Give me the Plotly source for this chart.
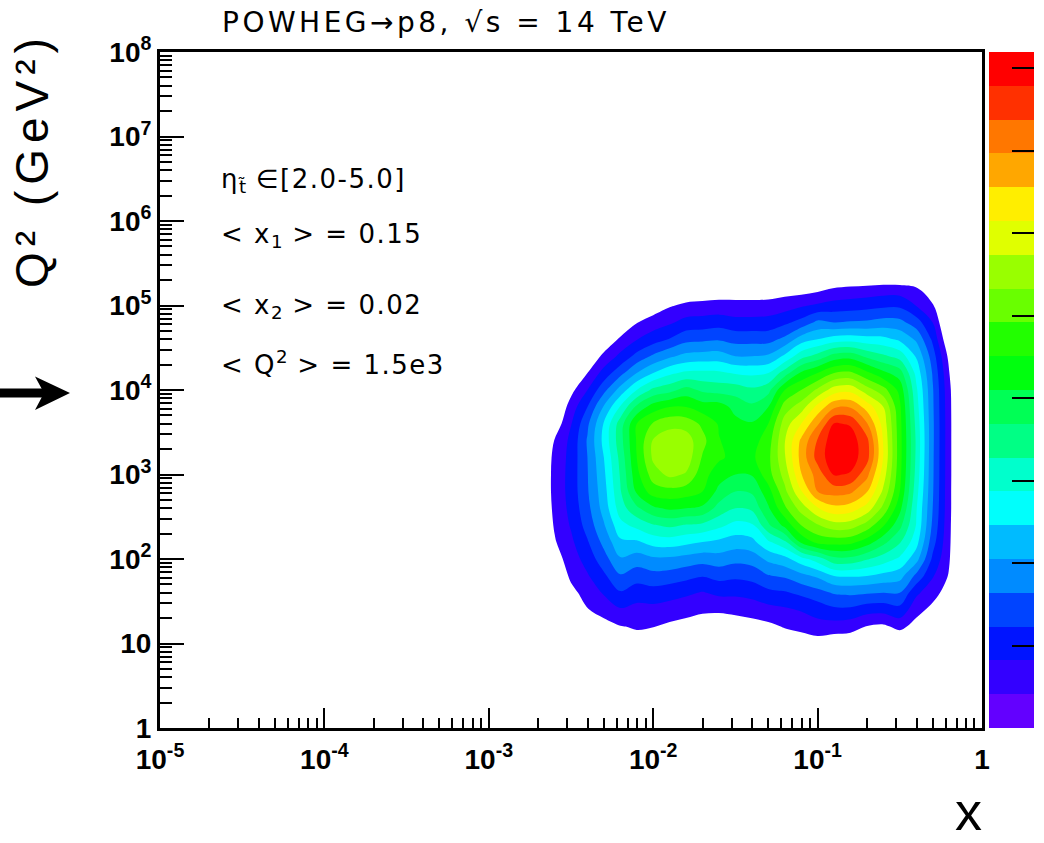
import numpy as np
import plotly.graph_objects as go

# ---------------- page geometry (pixels) ----------------
W, H = 1044, 843
ML, MR, MT, MB = 160, 62, 52, 115
PW, PH = W - ML - MR, H - MT - MB


def fx(px):
    return (px - ML) / PW


def fy(py):
    return (H - MB - py) / PH


# ---------------- data ----------------
# grid positions: log10(x) columns and log10(Q^2) rows (rows listed from top = 10^5.4 down to 10^0.8)
log_x = [-2.7, -2.6, -2.5, -2.4, -2.3, -2.2, -2.1, -2.0, -1.9, -1.8, -1.7, -1.6, -1.5, -1.4,
         -1.3, -1.2, -1.1, -1.0, -0.9, -0.8, -0.7, -0.6, -0.5, -0.4, -0.3, -0.2, -0.1]
log_q2_top_down = [5.4, 5.2, 5.0, 4.8, 4.6, 4.4, 4.2, 4.0, 3.8, 3.6, 3.4, 3.2, 3.0, 2.8,
                   2.6, 2.4, 2.2, 2.0, 1.8, 1.6, 1.4, 1.2, 1.0, 0.8]

# density (in colour-band units, 1 band = 1 palette step) read per x column, top (Q2=10^5.4) to bottom
levels_by_x = [
    [0, 0, 0, 0, 0, 0, 0, 0, 0, 0.2, 0.4, 0.6, 0.6, 0.6, 0.5, 0.3, 0.1, 0, 0, 0, 0, 0, 0, 0],                      # -2.7
    [0, 0, 0, 0, 0, 0, 0, 0, 0.3, 0.8, 1.55, 1.7, 1.75, 1.75, 1.7, 1.6, 1.4, 1.0, 0.5, 0, 0, 0, 0, 0],            # -2.6
    [0, 0, 0, 0, 0, 0, 0.3, 1.2, 1.95, 2.45, 2.75, 2.85, 2.9, 2.9, 2.8, 2.6, 2.3, 2.0, 1.7, 1.2, 0.6, 0, 0, 0],   # -2.5
    [0, 0, 0, 0, 0, 0.6, 1.5, 2.5, 3.5, 4.3, 4.6, 4.5, 4.45, 4.4, 4.2, 3.9, 3.4, 2.9, 2.4, 1.9, 1.45, 0.7, 0, 0],  # -2.4
    [0, 0, 0, 0, 0.7, 1.75, 2.9, 4.2, 5.6, 6.6, 6.8, 6.5, 6.3, 6.1, 5.9, 5.4, 4.8, 4.1, 3.3, 2.6, 1.9, 1.1, 0.3, 0],  # -2.3
    [0, 0, 0, 0.6, 1.66, 2.75, 4.17, 5.9, 7.6, 9.0, 9.1, 8.8, 8.6, 8.4, 8.0, 7.2, 6.3, 5.4, 4.4, 3.4, 2.4, 1.45, 0.5, 0],  # -2.2
    [0, 0, 0.2, 1.45, 2.45, 3.83, 5.5, 7.5, 9.75, 11.5, 11.6, 11.5, 11.2, 10.7, 9.3, 7.8, 6.35, 5.0, 3.95, 2.95, 2.2, 1.6, 1.1, 0],  # -2.1
    [0, 0, 0.9, 1.95, 3.06, 4.67, 6.5, 8.75, 11.0, 12.6, 13.6, 13.7, 13.0, 12.0, 10.3, 8.42, 6.88, 5.32, 4.17, 3.08, 2.2, 1.53, 0.9, 0],  # -2.0
    [0, 0.3, 1.4, 2.35, 3.55, 5.33, 7.3, 9.17, 11.5, 13.2, 14.1, 14.3, 13.75, 12.17, 10.67, 8.7, 7.0, 5.3, 4.06, 2.9, 2.04, 1.3, 0.6, 0],  # -1.9
    [0, 0.6, 1.7, 2.85, 4.2, 5.8, 7.7, 9.9, 11.5, 13.1, 14.0, 14.1, 13.4, 12.0, 10.5, 8.42, 6.75, 5.1, 3.81, 2.67, 1.89, 1.1, 0.3, 0],  # -1.8
    [0, 0.7, 1.78, 2.93, 4.3, 5.91, 7.75, 9.3, 11.0, 12.3, 12.8, 12.4, 11.9, 11.5, 10.3, 8.25, 6.5, 4.9, 3.56, 2.43, 1.69, 0.9, 0, 0],  # -1.7
    [0, 0.85, 1.83, 3.07, 4.4, 5.97, 7.7, 9.1, 11.0, 11.4, 11.55, 11.67, 10.95, 10.22, 9.11, 7.75, 6.28, 5.07, 3.83, 2.72, 1.67, 0.8, 0, 0],  # -1.6
    [0, 0.85, 1.82, 2.83, 4.14, 5.5, 7.4, 9.07, 10.17, 10.8, 11.1, 11.2, 10.5, 9.5, 8.5, 7.2, 6.0, 4.8, 3.7, 2.7, 1.8, 0.9, 0.1, 0],  # -1.5
    [0, 0.85, 1.82, 2.83, 4.14, 5.5, 7.3, 8.7, 9.7, 10.6, 11.05, 11.3, 10.57, 9.64, 8.71, 7.33, 6.19, 4.94, 3.85, 2.85, 1.92, 1.1, 0.3, 0],  # -1.4
    [0, 0.85, 1.85, 2.89, 4.14, 5.65, 7.5, 9.17, 10.5, 11.5, 12.03, 12.25, 12.1, 11.1, 10.36, 9.33, 7.33, 5.73, 4.44, 3.22, 2.18, 1.25, 0.4, 0],  # -1.3
    [0, 1.0, 2.05, 3.29, 4.75, 6.7, 9.0, 11.5, 13.0, 14.0, 14.45, 14.4, 13.9, 13.24, 12.31, 10.8, 8.28, 6.17, 4.64, 3.39, 2.35, 1.58, 0.8, 0],  # -1.2
    [0, 1.0, 2.37, 3.83, 6.0, 8.13, 10.7, 12.5, 14.0, 15.5, 16.7, 16.85, 16.45, 15.43, 13.92, 12.5, 10.72, 7.1, 5.2, 3.72, 2.58, 1.8, 0.9, 0],  # -1.1
    [0, 1.2, 2.65, 4.75, 6.5, 8.9, 11.5, 13.7, 15.83, 17.35, 18.6, 18.9, 17.92, 17.5, 15.42, 13.42, 11.8, 8.0, 5.67, 4.13, 2.9, 2.13, 1.0, 0],  # -1.0
    [0, 1.55, 2.9, 4.5, 7.0, 9.9, 12.5, 15.0, 17.3, 19.6, 20.2, 20.2, 19.6, 17.9, 16.2, 14.1, 11.9, 9.2, 6.5, 4.6, 3.3, 2.05, 0.8, 0],  # -0.9
    [0, 1.7, 3.0, 4.6, 7.1, 10.1, 12.7, 15.2, 17.4, 19.4, 20.0, 20.0, 19.4, 17.7, 16.0, 14.0, 11.8, 9.2, 6.6, 4.7, 3.3, 1.9, 0.8, 0],  # -0.8
    [0, 1.8, 3.14, 4.67, 6.9, 9.28, 11.75, 13.94, 16.1, 17.6, 18.8, 18.9, 17.8, 16.58, 15.1, 13.1, 11.0, 8.6, 6.5, 4.6, 2.9, 1.45, 0.3, 0],  # -0.7
    [0, 1.94, 3.28, 4.9, 6.8, 8.7, 10.75, 12.9, 14.5, 15.1, 15.4, 15.45, 15.0, 14.3, 13.2, 11.6, 9.8, 8.0, 6.2, 4.5, 2.85, 1.3, 0.2, 0],  # -0.6
    [0, 1.9, 3.3, 4.8, 6.3, 8.1, 10.0, 11.2, 11.7, 11.85, 11.9, 11.9, 11.8, 11.5, 10.8, 9.8, 8.6, 7.3, 5.9, 4.5, 3.17, 1.8, 0.4, 0],  # -0.5
    [0, 1.63, 2.46, 4.0, 5.34, 6.4, 7.2, 7.7, 7.97, 8.2, 8.35, 8.3, 8.15, 7.9, 7.6, 7.45, 6.9, 5.9, 4.25, 2.7, 1.87, 1.1, 0.2, 0],  # -0.4
    [0, 0.7, 1.6, 2.5, 3.3, 4.0, 4.4, 4.6, 4.65, 4.7, 4.7, 4.67, 4.65, 4.6, 4.5, 4.3, 3.9, 3.3, 2.6, 1.9, 1.2, 0.5, 0, 0],  # -0.3
    [0, 0, 0, 0, 0.5, 1.2, 1.55, 1.75, 1.8, 1.82, 1.82, 1.82, 1.82, 1.8, 1.8, 1.75, 1.7, 1.6, 1.4, 1.0, 0.5, 0, 0, 0],  # -0.2
    [0, 0, 0, 0, 0, 0, -0.6, -0.6, -0.6, -0.6, -0.6, -0.6, -0.6, -0.6, -0.6, -0.6, -0.6, -0.6, 0, 0, 0, 0, 0, 0],  # -0.1
]

# ROOT "pretty" palette sampled at 20 contour levels (violet -> red)
palette = ['#6300FF', '#3300FF', '#0014FF', '#0044FF', '#008BFF', '#00BBFF', '#00FFFC',
           '#00FFCC', '#00FF85', '#00FF55', '#00FF0E', '#22FF00', '#69FF00', '#99FF00',
           '#E0FF00', '#FFEE00', '#FFA700', '#FF7700', '#FF3000', '#FF0000']

x_tick_vals = [1e-5, 1e-4, 1e-3, 1e-2, 1e-1, 1]
x_tick_text = ['10<sup>-5</sup>', '10<sup>-4</sup>', '10<sup>-3</sup>', '10<sup>-2</sup>',
               '10<sup>-1</sup>', '1']
y_tick_vals = [1, 10, 1e2, 1e3, 1e4, 1e5, 1e6, 1e7, 1e8]
y_tick_text = ['1', '10', '10<sup>2</sup>', '10<sup>3</sup>', '10<sup>4</sup>',
               '10<sup>5</sup>', '10<sup>6</sup>', '10<sup>7</sup>', '10<sup>8</sup>']

# ---------------- build ----------------
z = np.array(levels_by_x, dtype=float).T[::-1]          # rows ascending in Q2
xs = [10 ** v for v in log_x]
ys = [10 ** v for v in log_q2_top_down[::-1]]

# contour colour map: value k -> band k colour (band 1 is not painted in the original)
cont_scale = [[0.0, '#FFFFFF'], [0.05, '#FFFFFF']]
for k in range(2, 21):
    cont_scale.append([k / 20, palette[k - 1]])

bar_scale = []
for k in range(1, 21):
    bar_scale.append([(k - 1) / 20, palette[k - 1]])
    bar_scale.append([k / 20, palette[k - 1]])

minor_x = [m * 10.0 ** e for e in range(-5, 0) for m in range(2, 10)]
minor_y = [m * 10.0 ** e for e in range(0, 8) for m in range(2, 10)]

FONT = 'Liberation Sans'
TFONT = 'DejaVu Sans'

fig = go.Figure()
fig.add_trace(go.Contour(
    x=xs, y=ys, z=z,
    colorscale=cont_scale, showscale=False,
    autocontour=False,
    contours=dict(start=0.5, end=19.5, size=1, coloring='fill', showlines=False),
    line=dict(width=0, smoothing=1),
    hoverinfo='skip'))

# palette (colour bar) trace
fig.add_trace(go.Scatter(
    x=[None], y=[None], mode='markers', showlegend=False, hoverinfo='skip',
    marker=dict(color=[1], cmin=0.5, cmax=20.5, colorscale=bar_scale, showscale=True,
                colorbar=dict(thickness=45, thicknessmode='pixels', len=1, lenmode='fraction',
                              x=fx(989), xanchor='left', y=0.5, yanchor='middle',
                              xpad=0, ypad=0, outlinewidth=0, borderwidth=0,
                              tickmode='linear', tick0=0.5, dtick=100 / 41,
                              ticks='inside', ticklen=22, tickwidth=2, tickcolor='black',
                              showticklabels=False))))

axis_common = dict(type='log', showgrid=False, zeroline=False, showline=True,
                   linecolor='black', linewidth=3, mirror=True, ticks='inside',
                   tickwidth=2, tickcolor='black', tickmode='array',
                   tickfont=dict(family=FONT, size=28, color='black', weight='bold'))

fig.update_layout(
    width=W, height=H, margin=dict(l=ML, r=MR, t=MT, b=MB, autoexpand=False),
    paper_bgcolor='white', plot_bgcolor='white', showlegend=False,
    xaxis=dict(axis_common, range=[-5, 0], ticklen=20, tickvals=x_tick_vals,
               ticktext=x_tick_text, ticklabelstandoff=4,
               minor=dict(tickmode='array', tickvals=minor_x, ticks='inside', ticklen=10,
                          tickwidth=2, tickcolor='black', showgrid=False)),
    yaxis=dict(axis_common, range=[0, 8], ticklen=24, tickvals=y_tick_vals,
               ticktext=y_tick_text,
               minor=dict(tickmode='array', tickvals=minor_y, ticks='inside', ticklen=12,
                          tickwidth=2, tickcolor='black', showgrid=False)),
)

ls = 'letter-spacing:1.5px'
notes = [
    ('<span style="%s">η</span><sub>t\u0303</sub><span style="%s"> ∈[2.0-5.0]</span>' % (ls, ls), 162),
    ('<span style="%s">&lt; x</span><sub>1</sub><span style="%s"> &gt; = 0.15</span>' % (ls, ls), 217),
    ('<span style="%s">&lt; x</span><sub>2</sub><span style="%s"> &gt; = 0.02</span>' % (ls, ls), 288),
    ('<span style="%s">&lt; Q</span><sup>2</sup><span style="%s"> &gt; = 1.5e3</span>' % (ls, ls), 344),
]
for txt, ytop in notes:
    fig.add_annotation(text=txt, xref='paper', yref='paper', x=fx(219), y=fy(ytop),
                       xanchor='left', yanchor='top', showarrow=False,
                       font=dict(family=TFONT, size=26, color='black'))

# title
fig.add_annotation(text='<span style="letter-spacing:3.5px">POWHEG→p8, √s = 14 TeV</span>',
                   xref='paper', yref='paper', x=fx(220), y=fy(4),
                   xanchor='left', yanchor='top', showarrow=False,
                   font=dict(family=TFONT, size=28, color='black'))
# axis titles
fig.add_annotation(text='<span style="letter-spacing:6px">Q² (GeV²)</span>',
                   xref='paper', yref='paper', x=fx(32), y=fy(160),
                   xanchor='center', yanchor='middle', textangle=-90, showarrow=False,
                   font=dict(family=FONT, size=46, color='black'))
fig.add_annotation(text='x', xref='paper', yref='paper', x=fx(968), y=fy(843),
                   xanchor='center', yanchor='bottom', showarrow=False,
                   font=dict(family=FONT, size=54, color='black'))

# arrow marker on the left (pointing at 10^4)
fig.add_shape(type='rect', xref='paper', yref='paper', x0=fx(0), x1=fx(45),
              y0=fy(397.5), y1=fy(388.5), fillcolor='black', line=dict(width=0))
pts = [(70, 393), (35, 376.5), (44, 393), (35, 410)]
path = 'M ' + ' L '.join('%.5f,%.5f' % (fx(a), fy(b)) for a, b in pts) + ' Z'
fig.add_shape(type='path', xref='paper', yref='paper', path=path,
              fillcolor='black', line=dict(width=0))

fig.write_html('out.html')
